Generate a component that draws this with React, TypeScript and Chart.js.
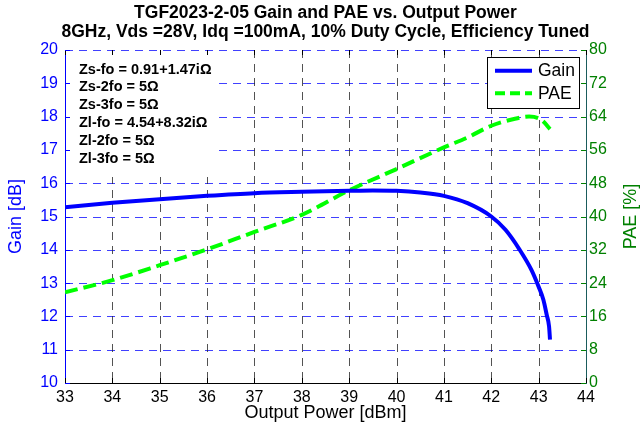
import React, { useEffect, useRef } from 'react';
import { Chart, registerables } from 'chart.js';

Chart.register(...registerables);

const titleLines = [
  'TGF2023-2-05 Gain and PAE vs. Output Power',
  '8GHz, Vds =28V, Idq =100mA, 10% Duty Cycle, Efficiency Tuned',
];
const xTitle = 'Output Power [dBm]';
const gainTitle = 'Gain [dB]';
const paeTitle = 'PAE [%]';
const legendLabels = ['Gain', 'PAE'];
const annotations = [
  'Zs-fo = 0.91+1.47iΩ',
  'Zs-2fo = 5Ω',
  'Zs-3fo = 5Ω',
  'Zl-fo = 4.54+8.32iΩ',
  'Zl-2fo = 5Ω',
  'Zl-3fo = 5Ω',
];

const gainPower = [33, 34, 35, 36, 37, 38, 39, 39.5, 40, 40.5, 41, 41.5, 42, 42.3, 42.6, 42.85, 43, 43.1, 43.17, 43.22, 43.24];
const gainValues = [15.28, 15.41, 15.52, 15.62, 15.7, 15.74, 15.77, 15.78, 15.77, 15.72, 15.62, 15.4, 15.0, 14.6, 14.0, 13.39, 12.89, 12.5, 12.05, 11.7, 11.3];
const paePower = [33, 34, 35, 36, 37, 38, 39, 40, 41, 41.5, 42, 42.5, 42.8, 43, 43.1, 43.24];
const paeValues = [21.8, 24.7, 28.3, 32.1, 36.3, 40.4, 46.3, 51.4, 56.6, 59.0, 61.8, 63.5, 64.0, 63.6, 62.8, 61.0];

const FONT = '"Liberation Sans", Arial, Helvetica, sans-serif';
const BLUE = '#0000FF';
const GREEN = '#00FF00';
const DARKGREEN = '#008000';

const decor = {
  id: 'decor',
  beforeDatasetsDraw(chart: any) {
    const { ctx, chartArea: a, scales } = chart;
    const x = scales.x, y = scales.y, y1 = scales.y1;
    ctx.save();
    ctx.lineWidth = 1;
    ctx.setLineDash([8, 6]);
    ctx.strokeStyle = 'rgba(0,0,255,0.75)';
    y.ticks.forEach((t: any) => {
      if (t.value === y.min) return;
      const py = Math.round(y.getPixelForValue(t.value)) + 0.5;
      ctx.beginPath(); ctx.moveTo(a.left, py); ctx.lineTo(a.right, py); ctx.stroke();
    });
    ctx.strokeStyle = 'rgba(40,40,40,0.8)';
    x.ticks.forEach((t: any) => {
      if (t.value === x.min || t.value === x.max) return;
      const px = Math.round(x.getPixelForValue(t.value)) + 0.5;
      ctx.beginPath(); ctx.moveTo(px, a.top); ctx.lineTo(px, a.bottom); ctx.stroke();
    });
    ctx.setLineDash([]);
    // annotation box
    ctx.fillStyle = '#ffffff';
    ctx.fillRect(a.left + 1.5, a.top + 2, 218 - a.left - 1.5, 177 - a.top - 2);
    // tick marks
    ctx.strokeStyle = '#000';
    x.ticks.forEach((t: any) => {
      const px = Math.round(x.getPixelForValue(t.value)) + 0.5;
      ctx.beginPath();
      ctx.moveTo(px, a.bottom); ctx.lineTo(px, a.bottom - 5);
      ctx.moveTo(px, a.top); ctx.lineTo(px, a.top + 5);
      ctx.stroke();
    });
    ctx.strokeStyle = BLUE;
    y.ticks.forEach((t: any) => {
      const py = Math.round(y.getPixelForValue(t.value)) + 0.5;
      ctx.beginPath(); ctx.moveTo(a.left, py); ctx.lineTo(a.left + 5, py); ctx.stroke();
    });
    ctx.strokeStyle = DARKGREEN;
    y1.ticks.forEach((t: any) => {
      const py = Math.round(y1.getPixelForValue(t.value)) + 0.5;
      ctx.beginPath(); ctx.moveTo(a.right, py); ctx.lineTo(a.right - 5, py); ctx.stroke();
    });
    // annotation text
    ctx.fillStyle = '#000';
    ctx.font = `bold 14.5px ${FONT}`;
    ctx.textAlign = 'left';
    ctx.textBaseline = 'middle';
    annotations.forEach((s, i) => ctx.fillText(s, 79, 69.5 + i * 17.8));
    ctx.restore();
  },
  afterDatasetsDraw(chart: any) {
    const { ctx, chartArea: a } = chart;
    ctx.save();
    // legend
    const lx = 487.5, ly = 57.5, lw = 92, lh = 51;
    ctx.fillStyle = '#fff';
    ctx.fillRect(lx, ly, lw, lh);
    ctx.strokeStyle = '#000';
    ctx.lineWidth = 1;
    ctx.strokeRect(lx, ly, lw, lh);
    ctx.lineWidth = 4;
    ctx.strokeStyle = BLUE;
    ctx.beginPath(); ctx.moveTo(495, 70.7); ctx.lineTo(532, 70.7); ctx.stroke();
    ctx.strokeStyle = GREEN;
    ctx.setLineDash([10, 5]);
    ctx.beginPath(); ctx.moveTo(495, 93.3); ctx.lineTo(532, 93.3); ctx.stroke();
    ctx.setLineDash([]);
    ctx.fillStyle = '#000';
    ctx.font = `17.5px ${FONT}`;
    ctx.textAlign = 'left';
    ctx.textBaseline = 'middle';
    ctx.fillText(legendLabels[0], 538, 71);
    ctx.fillText(legendLabels[1], 538, 94);
    // titles
    ctx.textAlign = 'center';
    ctx.textBaseline = 'alphabetic';
    ctx.font = `bold 17.5px ${FONT}`;
    const cx = (a.left + a.right) / 2;
    ctx.fillText(titleLines[0], cx, 18);
    ctx.fillText(titleLines[1], cx, 37);
    ctx.font = `18px ${FONT}`;
    ctx.textBaseline = 'middle';
    ctx.fillText(xTitle, cx, 413);
    const cy = (a.top + a.bottom) / 2;
    ctx.save();
    ctx.translate(16, cy);
    ctx.rotate(-Math.PI / 2);
    ctx.fillStyle = BLUE;
    ctx.fillText(gainTitle, 0, 0);
    ctx.restore();
    ctx.save();
    ctx.translate(631, cy);
    ctx.rotate(-Math.PI / 2);
    ctx.fillStyle = DARKGREEN;
    ctx.fillText(paeTitle, 0, 0);
    ctx.restore();
    ctx.restore();
  },
};

export default function App() {
  const ref = useRef<HTMLCanvasElement>(null);
  useEffect(() => {
    if (!ref.current) return;
    const chart = new Chart(ref.current, {
      type: 'line',
      data: {
        datasets: [
          {
            label: legendLabels[0],
            data: gainPower.map((p, i) => ({ x: p, y: gainValues[i] })),
            yAxisID: 'y',
            borderColor: BLUE,
            borderWidth: 4,
            pointRadius: 0,
            cubicInterpolationMode: 'monotone',
          },
          {
            label: legendLabels[1],
            data: paePower.map((p, i) => ({ x: p, y: paeValues[i] })),
            yAxisID: 'y1',
            borderColor: GREEN,
            borderWidth: 4,
            borderDash: [13, 6],
            pointRadius: 0,
            cubicInterpolationMode: 'monotone',
          },
        ],
      },
      options: {
        animation: false,
        responsive: true,
        maintainAspectRatio: false,
        layout: { padding: { top: 50, left: 0, right: 0, bottom: 0 } },
        plugins: { legend: { display: false }, tooltip: { enabled: false }, title: { display: false } },
        scales: {
          x: {
            type: 'linear',
            min: 33,
            max: 44,
            afterFit: (s: any) => { s.height = 49; },
            ticks: { stepSize: 1, color: '#000', padding: 5, font: { family: FONT, size: 16 } },
            grid: { drawOnChartArea: false, drawTicks: false },
            border: { color: '#000', width: 1 },
          },
          y: {
            type: 'linear',
            position: 'left',
            min: 10,
            max: 20,
            afterFit: (s: any) => { s.width = 65; },
            ticks: { stepSize: 1, color: BLUE, padding: 7, font: { family: FONT, size: 16 } },
            grid: { drawOnChartArea: false, drawTicks: false },
            border: { color: BLUE, width: 1 },
          },
          y1: {
            type: 'linear',
            position: 'right',
            min: 0,
            max: 80,
            afterFit: (s: any) => { s.width = 58; },
            ticks: { stepSize: 8, color: DARKGREEN, padding: 3, font: { family: FONT, size: 16 } },
            grid: { drawOnChartArea: false, drawTicks: false },
            border: { color: '#1A5C5C', width: 1 },
          },
        },
      },
      plugins: [decor],
    } as any);
    return () => chart.destroy();
  }, []);
  return (
    <div style={{ position: 'fixed', left: 0, top: 0, width: 644, height: 432, background: '#fff' }}>
      <canvas ref={ref} />
    </div>
  );
}
